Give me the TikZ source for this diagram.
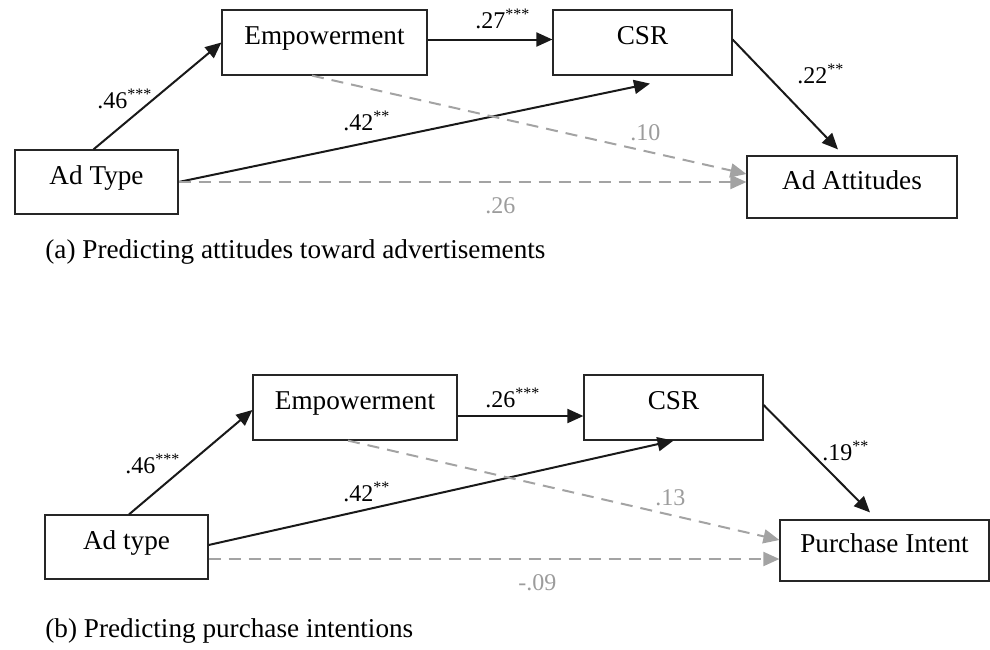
\documentclass[tikz,border=0pt]{standalone}
\usepackage{fontspec}
\setmainfont{Liberation Serif}
\usetikzlibrary{arrows.meta}
\definecolor{dgray}{HTML}{A3A3A3}
\definecolor{lgray}{HTML}{9C9C9C}
\definecolor{boxline}{HTML}{262626}
\begin{document}
\begin{tikzpicture}[x=0.5pt,y=-0.5pt,
  box/.style={draw=boxline, line width=0.6pt, rectangle, inner sep=0pt,
    font=\fontsize{13.6}{16}\selectfont, text height=9pt, text depth=7pt},
  sig/.style={line width=1pt, black!90, -{Triangle[length=8pt,width=7pt]}},
  nsig/.style={line width=1pt, dgray, dash pattern=on 6pt off 4pt, -{Triangle[length=8pt,width=7pt]}},
  coef/.style={font=\fontsize{12}{14}\selectfont, anchor=base west, inner sep=0pt},
  ncoef/.style={coef, text=lgray},
  capt/.style={font=\fontsize{13.6}{16}\selectfont, anchor=base west, inner sep=0pt}]
\useasboundingbox (0,0) rectangle (990,649);

% ---------- (a) ----------
\node[box, minimum width=102.5pt, minimum height=32.5pt] (emp1) at (324.5,42.5) {Empowerment};
\node[box, minimum width=89.5pt, minimum height=32.5pt] (csr1) at (642.5,42.5) {CSR};
\node[box, minimum width=81.5pt, minimum height=32pt] (adt1) at (96.5,182) {Ad Type};
\node[box, minimum width=105pt, minimum height=31pt] (att1) at (852,187) {Ad Attitudes};

\draw[sig] ([shift={(-3,0)}]adt1.north) -- (emp1.west);
\draw[sig] ([shift={(0,-3)}]emp1.east) -- ([shift={(0,-3)}]csr1.west);
\draw[sig] (adt1.east) -- ([shift={(7.5,8)}]csr1.south);
\draw[nsig] ([shift={(-12.5,0)}]emp1.south) -- ([shift={(0,-13)}]att1.west);
\draw[nsig] (adt1.east) -- (adt1.east -| att1.west);
\draw[sig] ([shift={(0,-3)}]csr1.east) -- ([shift={(-14,-6)}]att1.north);

\node[coef] (c1a) at (97,108) {.46\textsuperscript{***}};
\node[coef] (c2a) at (343,130) {.42\textsuperscript{**}};
\node[coef] (c3a) at (475,28) {.27\textsuperscript{***}};
\node[coef] (c4a) at (797,83) {.22\textsuperscript{**}};
\node[ncoef] (c5a) at (630,140) {.10};
\node[ncoef] (c6a) at (485,213) {.26};
\node[capt] (capa) at (45,258) {(a) Predicting attitudes toward advertisements};

% ---------- (b) ----------
\node[box, minimum width=102pt, minimum height=32.5pt] (emp2) at (355,407.5) {Empowerment};
\node[box, minimum width=89.5pt, minimum height=32.5pt] (csr2) at (673.5,407.5) {CSR};
\node[box, minimum width=81.5pt, minimum height=32pt] (adt2) at (126.5,547) {Ad type};
\node[box, minimum width=104.5pt, minimum height=30.5pt] (pur2) at (884.5,550.5) {Purchase Intent};

\draw[sig] ([shift={(2.5,0)}]adt2.north) -- ([shift={(0,2.5)}]emp2.west);
\draw[sig] ([shift={(0,8.5)}]emp2.east) -- ([shift={(0,8.5)}]csr2.west);
\draw[sig] ([shift={(0,-2)}]adt2.east) -- (csr2.south);
\draw[nsig] ([shift={(-7,0)}]emp2.south) -- ([shift={(0,-10.5)}]pur2.west);
\draw[nsig] ([shift={(0,12)}]adt2.east) -- ([shift={(0,12)}]adt2.east -| pur2.west);
\draw[sig] ([shift={(0,-2.5)}]csr2.east) -- ([shift={(-14.5,-7)}]pur2.north);

\node[coef] (c1b) at (125,473) {.46\textsuperscript{***}};
\node[coef] (c2b) at (343,501) {.42\textsuperscript{**}};
\node[coef] (c3b) at (485,407) {.26\textsuperscript{***}};
\node[coef] (c4b) at (822,460) {.19\textsuperscript{**}};
\node[ncoef] (c5b) at (655,505) {.13};
\node[ncoef] (c6b) at (518,590) {-.09};
\node[capt] (capb) at (45,637) {(b) Predicting purchase intentions};
\end{tikzpicture}
\end{document}
